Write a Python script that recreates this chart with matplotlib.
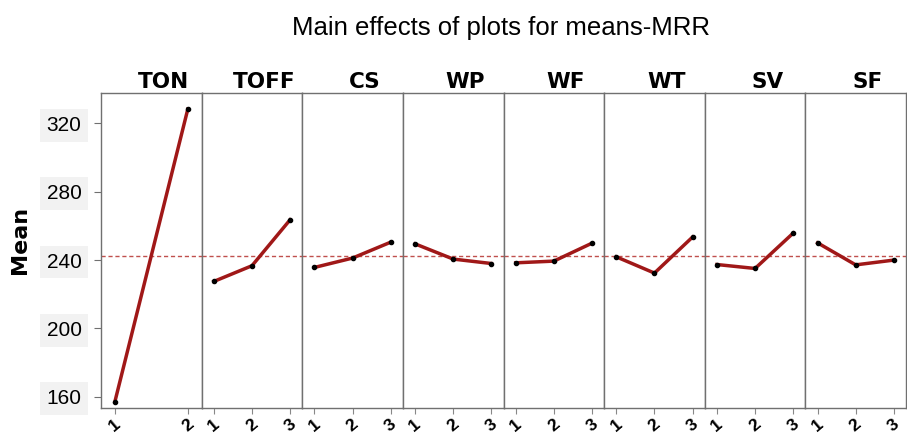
import matplotlib.pyplot as plt
from matplotlib.transforms import ScaledTranslation

factors = ["TON", "TOFF", "CS", "WP", "WF", "WT", "SV", "SF"]
ton = [157.1, 328.4]
toff = [227.5, 236.7, 263.6]
cs = [235.7, 241.2, 250.5]
wp = [249.5, 240.6, 238.0]
wf = [238.4, 239.4, 249.9]
wt = [241.9, 232.4, 253.5]
sv = [237.4, 235.1, 255.8]
sf = [250.1, 237.2, 240.0]
grand_mean = 242.6
yticks = [160, 200, 240, 280, 320]

means = [ton, toff, cs, wp, wf, wt, sv, sf]

plt.rcParams["font.family"] = ["Liberation Sans", "DejaVu Sans"]

fig = plt.figure(figsize=(9.07, 4.37), dpi=100)
axes = fig.subplots(1, len(factors), sharey=True)
fig.subplots_adjust(left=0.1114, right=0.9989, top=0.787, bottom=0.0664, wspace=0)

for i, (ax, name, ys) in enumerate(zip(axes, factors, means)):
    levels = list(range(1, len(ys) + 1))
    ax.plot(levels, ys, color="#a01818", lw=2.5, zorder=3)
    ax.plot(levels, ys, "o", color="black", ms=3, zorder=4)
    ax.axhline(grand_mean, color="#c0504d", lw=1.0, ls=(0, (3, 2)), zorder=2)
    if len(ys) == 2:
        ax.set_xlim(0.81, 2.19)
    else:
        ax.set_xlim(0.68, 3.32)
    ax.set_xticks(levels)
    ax.set_xticklabels([str(l) for l in levels], rotation=40, fontsize=12.5,
                       fontweight="bold")
    for lab in ax.get_xticklabels():
        lab.set_ha("center")
        lab.set_transform(lab.get_transform() + ScaledTranslation(0.12, 0, fig.dpi_scale_trans))
    ax.tick_params(axis="x", length=4, color="#888888", pad=2)
    for s in ax.spines.values():
        s.set_color("#707070")
        s.set_linewidth(1.0)
    ax.text(0.5 + 12 / 100.6, 1.005, name, transform=ax.transAxes, ha="center",
            va="bottom", fontsize=15.5, fontweight="heavy", family="DejaVu Sans")
    if i > 0:
        ax.tick_params(axis="y", left=False)

ax0 = axes[0]
ax0.set_ylim(153.4, 337.8)
ax0.set_yticks(yticks)
ax0.set_yticklabels([str(v) for v in yticks], fontsize=15)
ax0.tick_params(axis="y", length=5, color="#707070", pad=9)
for lab in ax0.get_yticklabels():
    lab.set_bbox(dict(facecolor="#f2f2f2", edgecolor="none", pad=5))

fig.text(20 / 907, 1 - 240 / 437, "Mean", rotation=90, ha="center", va="center",
         fontsize=16, fontweight="bold", family="DejaVu Sans")
fig.text(501 / 907, 1 - 28 / 437, "Main effects of plots for means-MRR",
         ha="center", va="center", fontsize=18.5)

plt.savefig("out.png", dpi=100)
